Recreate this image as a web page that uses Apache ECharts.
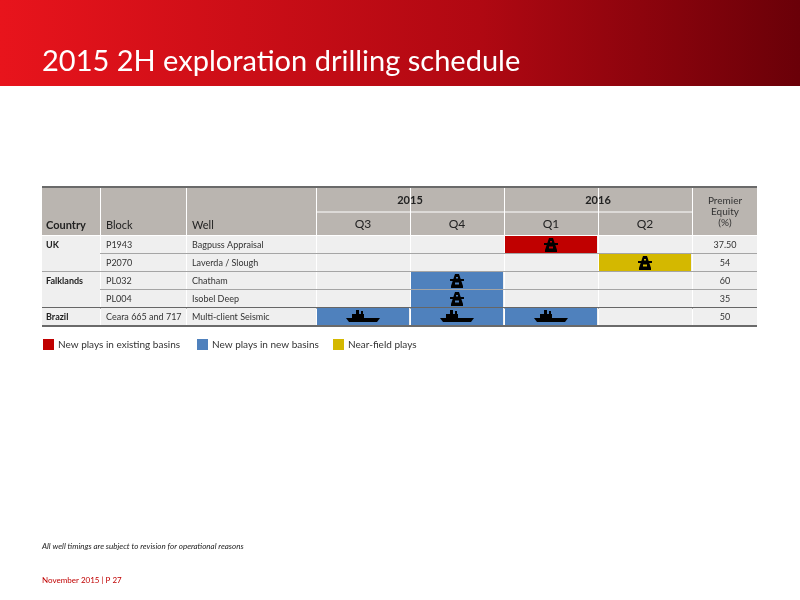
<!DOCTYPE html><html><head><meta charset="utf-8">
<script src="https://cdn.jsdelivr.net/npm/echarts@6/dist/echarts.min.js"></script>
<style>html,body{margin:0;padding:0}#c{width:800px;height:600px}</style></head><body><div id="c"></div>
<script>
const quarters=['Q3','Q4','Q1','Q2'];
const years=[['2015',0,1],['2016',2,3]];
const countries=['UK','','Falklands','','Brazil'];
const blocks=['P1943','P2070','PL032','PL004','Ceara 665 and 717'];
const wells=['Bagpuss Appraisal','Laverda / Slough','Chatham','Isobel Deep','Multi-client Seismic'];
const equity=['37.50','54','60','35','50'];
// [quarterIndex,rowIndex,playType,icon]
const activities=[[2,0,0,'rig'],[3,1,2,'rig'],[1,2,1,'rig'],[1,3,1,'rig'],[0,4,1,'ship'],[1,4,1,'ship'],[2,4,1,'ship']];
const playNames=['New plays in existing basins','New plays in new basins','Near-field plays'];
const playColors=['#c00000','#4f81bd','#d4b800'];

const F='Lato, "Open Sans", sans-serif';
const cols=[42,100,186,316,410,504,598,692,757];
const rowTop=236,rowH=18;
const g=[];
// header band
g.push({type:'rect',shape:{x:0,y:0,width:800,height:86},style:{fill:new echarts.graphic.LinearGradient(0,0,1,0,[{offset:0,color:'#e8141c'},{offset:0.6,color:'#b00812'},{offset:1,color:'#6a0008'}])}});
g.push({type:'text',x:42,y:62,style:{text:'2015 2H exploration drilling schedule',fill:'#fff',font:'29px '+F,verticalAlign:'middle'}});
// table header bg
for(let i=0;i<8;i++){
 g.push({type:'rect',shape:{x:cols[i]+(i?1:0),y:188,width:cols[i+1]-cols[i]-(i?1:0),height:47},style:{fill:'#bab5b0'}});
}
g.push({type:'line',shape:{x1:316,y1:212,x2:692,y2:212},style:{stroke:'#fff',lineWidth:1}});
g.push({type:'rect',shape:{x:504,y:188,width:1,height:24},style:{fill:'#fff'}});
g.push({type:'rect',shape:{x:42,y:186,width:715,height:2},style:{fill:'#6a6a6a'}});
const hs={fill:'#222',font:'11px '+F};
g.push({type:'text',x:46,y:225,style:Object.assign({text:'Country',font:'bold 11px '+F,fill:'#222',verticalAlign:'middle'})});
g.push({type:'text',x:106,y:225,style:Object.assign({text:'Block',verticalAlign:'middle'},hs)});
g.push({type:'text',x:192,y:225,style:Object.assign({text:'Well',verticalAlign:'middle'},hs)});
years.forEach(y=>{const cx=(cols[3+y[1]]+cols[4+y[2]])/2;g.push({type:'text',x:cx,y:200,style:{text:y[0],font:'bold 11px '+F,fill:'#222',align:'center',verticalAlign:'middle'}});});
quarters.forEach((q,i)=>g.push({type:'text',x:(cols[3+i]+cols[4+i])/2,y:224,style:{text:q,font:'12px '+F,fill:'#222',align:'center',verticalAlign:'middle'}}));
g.push({type:'text',x:725,y:212,style:{text:'Premier\nEquity\n(%)',font:'10px '+F,fill:'#333',align:'center',verticalAlign:'middle',lineHeight:11}});
// body
for(let r=0;r<5;r++){
 const y=rowTop+r*rowH;
 for(let i=0;i<8;i++){
  g.push({type:'rect',shape:{x:cols[i]+(i?1:0),y:y,width:cols[i+1]-cols[i]-(i?1:0),height:rowH},style:{fill:'#efefef'}});
 }
 const dark=(r===3||r===4);
 const x0=(r===0||r===2)?100:42;
 g.push({type:'rect',shape:{x:x0,y:y+rowH-1,width:757-x0,height:dark?1.5:1},style:{fill:dark?'#666':'#a5a5a5'}});
 const ty=y+rowH/2;
 if(countries[r])g.push({type:'text',x:46,y:ty,style:{text:countries[r],font:'bold 9px '+F,fill:'#222',verticalAlign:'middle'}});
 g.push({type:'text',x:106,y:ty,style:{text:blocks[r],font:'9px '+F,fill:'#333',verticalAlign:'middle'}});
 g.push({type:'text',x:192,y:ty,style:{text:wells[r],font:'9px '+F,fill:'#333',verticalAlign:'middle'}});
 g.push({type:'text',x:725,y:ty,style:{text:equity[r],font:'9px '+F,fill:'#333',align:'center',verticalAlign:'middle'}});
}
g.push({type:'rect',shape:{x:42,y:253,width:58,height:1},style:{fill:'#efefef'}});
g.push({type:'rect',shape:{x:42,y:289,width:58,height:1},style:{fill:'#efefef'}});
g.push({type:'rect',shape:{x:42,y:325,width:715,height:2},style:{fill:'#6a6a6a'}});
// legend
[43,197,333].forEach((x,i)=>{
 g.push({type:'rect',shape:{x:x,y:339,width:11,height:11},style:{fill:playColors[i]}});
 g.push({type:'text',x:x+15,y:345,style:{text:playNames[i],font:'10px '+F,fill:'#333',verticalAlign:'middle'}});
});
g.push({type:'text',x:42,y:546,style:{text:'All well timings are subject to revision for operational reasons',font:'italic 8px '+F,fill:'#222',verticalAlign:'middle'}});
g.push({type:'text',x:42,y:580,style:{text:'November 2015 | P 27',font:'8px '+F,fill:'#c00000',verticalAlign:'middle'}});

function renderItem(params,api){
 const c=api.coord([api.value(0),api.value(1)]);
 const s=api.size([1,1]);
 const col=playColors[api.value(2)];
 const icon=activities[params.dataIndex][3];
 const ch=[{type:'rect',shape:{x:c[0]-s[0]/2+1,y:c[1]-s[1]/2,width:s[0]-2,height:s[1]-1},style:{fill:col}}];
 const x=c[0],y=c[1];
 if(icon==='rig'){
  ch.push({type:'polygon',shape:{points:[[x-2,y-7],[x+2,y-7],[x+6,y+5],[x-6,y+5]]},style:{fill:'#000'}});
  ch.push({type:'rect',shape:{x:x-7,y:y-2,width:14,height:2},style:{fill:'#000'}});
  ch.push({type:'rect',shape:{x:x-6,y:y+5,width:12,height:2},style:{fill:'#000'}});
  ch.push({type:'rect',shape:{x:x-1,y:y-4,width:2,height:1.5},style:{fill:col}});
  ch.push({type:'rect',shape:{x:x-2,y:y+1.5,width:4,height:2},style:{fill:col}});
 }else{
  ch.push({type:'polygon',shape:{points:[[x-17,y+1],[x+17,y+1],[x+14,y+5],[x-14,y+5]]},style:{fill:'#000'}});
  ch.push({type:'rect',shape:{x:x-11,y:y-3,width:12,height:4},style:{fill:'#000'}});
  ch.push({type:'rect',shape:{x:x-7,y:y-7,width:3,height:4},style:{fill:'#000'}});
  ch.push({type:'rect',shape:{x:x-2,y:y-6,width:2,height:3},style:{fill:'#000'}});
 }
 return {type:'group',children:ch};
}
const chart=echarts.init(document.getElementById('c'));
chart.setOption({
 animation:false,
 graphic:{elements:g},
 grid:{left:316,right:108,top:236,bottom:274},
 xAxis:{type:'category',data:quarters,show:false},
 yAxis:{type:'category',data:wells,inverse:true,show:false},
 series:[{type:'custom',renderItem:renderItem,data:activities.map(a=>[a[0],a[1],a[2]]),z:10}]
});
</script></body></html>
